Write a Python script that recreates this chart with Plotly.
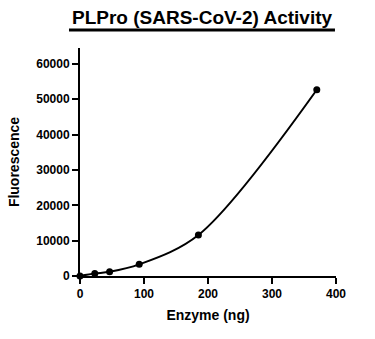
import plotly.graph_objects as go

# Enzyme titration (2-fold dilution series) and measured fluorescence
enzyme_ng = [0, 23.1, 46.25, 92.5, 185, 370]
fluorescence = [0, 700, 1200, 3300, 11600, 52700]

x_ticks = [0, 100, 200, 300, 400]
y_ticks = [0, 10000, 20000, 30000, 40000, 50000, 60000]

FONT = "Liberation Sans, Arial, sans-serif"

fig = go.Figure()
fig.add_trace(go.Scatter(
    x=enzyme_ng, y=fluorescence,
    mode="lines+markers",
    line=dict(color="black", width=2, shape="spline", smoothing=0.95),
    marker=dict(color="black", size=7),
    cliponaxis=False,
    showlegend=False,
))

axis_common = dict(
    showline=True, linecolor="black", linewidth=2,
    ticks="outside", ticklen=6, tickwidth=2, tickcolor="black",
    showgrid=False, zeroline=False,
    tickfont=dict(family=FONT, size=12, color="black", weight="bold"),
)

fig.update_xaxes(
    range=[0, 400], tickvals=x_ticks, ticktext=[str(v) for v in x_ticks],
    title=dict(text="<b>Enzyme (ng)</b>", font=dict(family=FONT, size=14, color="black"), standoff=10),
    **axis_common,
)
fig.update_yaxes(
    range=[0, 64500], tickvals=y_ticks, ticktext=[str(v) for v in y_ticks],
    title=dict(text="<b>Fluorescence</b>", font=dict(family=FONT, size=14, color="black"), standoff=13),
    **axis_common,
)

# Underlined bold title
fig.add_annotation(
    text="<b>PLPro (SARS-CoV-2) Activity</b>",
    xref="paper", yref="paper", x=0.4766, y=1.079,
    xanchor="center", yanchor="bottom", showarrow=False,
    font=dict(family=FONT, size=19, color="black"),
)
fig.add_shape(
    type="line", xref="paper", yref="paper",
    x0=-0.043, x1=0.996, y0=1.079, y1=1.079,
    line=dict(color="black", width=3),
)

fig.update_layout(
    width=375, height=339,
    margin=dict(l=80, r=39, t=48, b=63),
    paper_bgcolor="white", plot_bgcolor="white",
)

fig.write_html("out.html")
